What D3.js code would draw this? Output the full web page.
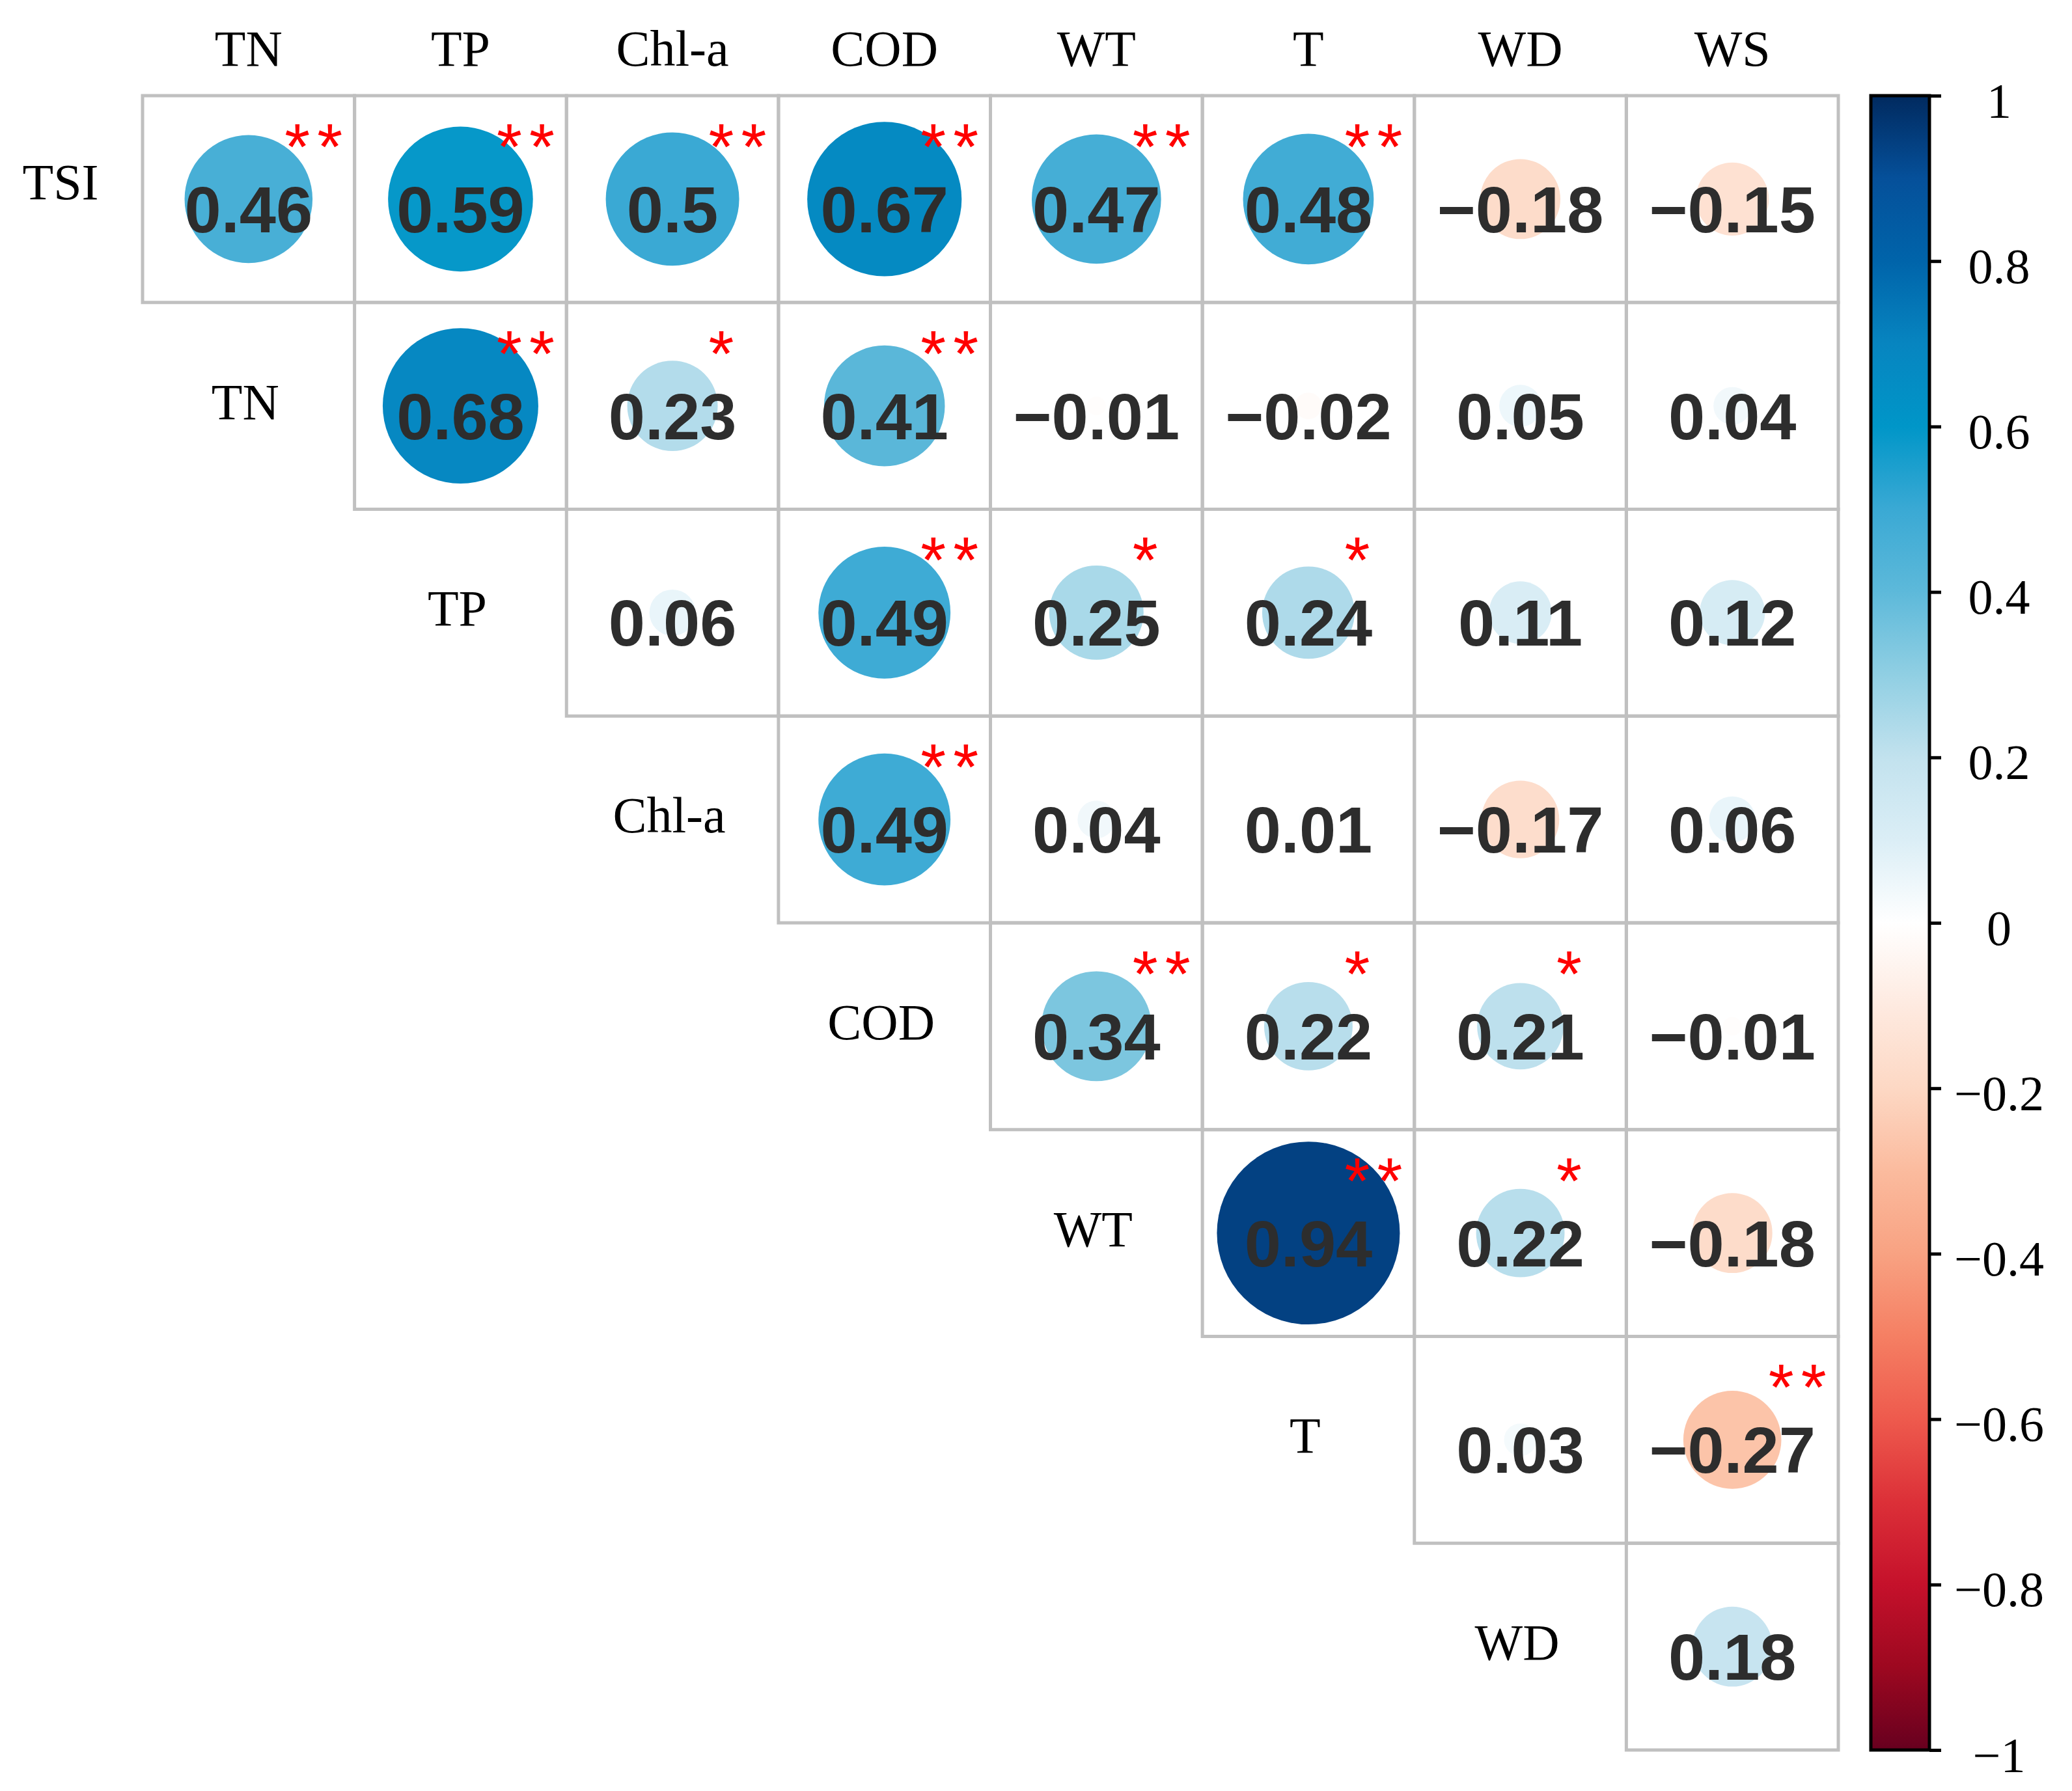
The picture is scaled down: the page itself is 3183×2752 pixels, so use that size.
<!DOCTYPE html>
<html>
<meta charset="utf-8">
<head>
    <script src="https://d3js.org/d3.v7.min.js"></script>
</head>

<style>
  body { margin: 0; background: #fff; }
  svg .cell { fill: none; stroke: #c0c0c0; stroke-width: 5; }
  svg .val { font-family: "Liberation Sans", Arial, sans-serif; font-weight: bold; font-size: 101px; fill: #2d2d2d; text-anchor: middle; }
  svg .star { font-family: "Liberation Sans", Arial, sans-serif; font-size: 100px; fill: #ff0000; text-anchor: middle; }
  svg .lab { font-family: "Liberation Serif", "Times New Roman", serif; font-size: 78px; fill: #000; text-anchor: middle; }
  svg .tick text { font-family: "Liberation Serif", "Times New Roman", serif; font-size: 76px; fill: #000; text-anchor: middle; }
</style>

<body>
<script>

// rows / columns of the upper triangle
var rows = ["TSI", "TN", "TP", "Chl-a", "COD", "WT", "T", "WD"];
var cols = ["TN", "TP", "Chl-a", "COD", "WT", "T", "WD", "WS"];

// correlation of each row with cols[i], cols[i+1], ...
var rTSI  = [0.46, 0.59, 0.5, 0.67, 0.47, 0.48, -0.18, -0.15];
var rTN   = [0.68, 0.23, 0.41, -0.01, -0.02, 0.05, 0.04];
var rTP   = [0.06, 0.49, 0.25, 0.24, 0.11, 0.12];
var rChla = [0.49, 0.04, 0.01, -0.17, 0.06];
var rCOD  = [0.34, 0.22, 0.21, -0.01];
var rWT   = [0.94, 0.22, -0.18];
var rT    = [0.03, -0.27];
var rWD   = [0.18];

// number of stars (significance)
var sTSI  = [2, 2, 2, 2, 2, 2, 0, 0];
var sTN   = [2, 1, 2, 0, 0, 0, 0];
var sTP   = [0, 2, 1, 1, 0, 0];
var sChla = [2, 0, 0, 0, 0];
var sCOD  = [2, 1, 1, 0];
var sWT   = [2, 1, 0];
var sT    = [0, 2];
var sWD   = [0];

var legendTicks = [1, 0.8, 0.6, 0.4, 0.2, 0, -0.2, -0.4, -0.6, -0.8, -1];

var colorStops = [-1, -0.9, -0.8, -0.7, -0.6, -0.5, -0.4, -0.3, -0.2, -0.1, 0,
                  0.1, 0.2, 0.3, 0.4, 0.5, 0.6, 0.7, 0.8, 0.9, 1];
var colorVals = ["#67001f", "#9d0820", "#c5112b", "#dc3038", "#ee5a4d", "#f57f63", "#f8a282", "#fbbb9e", "#fdd8c4", "#feeae0", "#ffffff",
                 "#dbeef6", "#c2e2ee", "#90cfe3", "#5db9da", "#3aa9d4", "#0096c8", "#0785c0", "#0064aa", "#05509a", "#012a5f"];

var rVals = [rTSI, rTN, rTP, rChla, rCOD, rWT, rT, rWD];
var sVals = [sTSI, sTN, sTP, sChla, sCOD, sWT, sT, sWD];

var data = [];
rows.forEach(function(r, i) {
    rVals[i].forEach(function(v, k) {
        data.push({row: r, col: cols[i + k], v: v, s: sVals[i][k]});
    });
});

var width = 3183, height = 2752;

var svg = d3.select("body").append("svg")
    .attr("width", width)
    .attr("height", height);

svg.append("rect").attr("width", width).attr("height", height).attr("fill", "#fff");

var x = d3.scaleBand().domain(cols).range([219, 2824]);
var y = d3.scaleBand().domain(rows).range([147, 2689]);
var bw = x.bandwidth(), bh = y.bandwidth();

var color = d3.scaleLinear().domain(colorStops).range(colorVals);
var rad = function(v) { return 0.445 * bw * Math.sqrt(Math.abs(v)); };
var fmt = function(v) { return String(v).replace("-", "\u2212"); };

var cells = svg.append("g").selectAll("g")
    .data(data)
    .enter().append("g")
    .attr("transform", function(d) { return "translate(" + (x(d.col) + bw / 2) + "," + (y(d.row) + bh / 2) + ")"; });

cells.append("rect")
    .attr("class", "cell")
    .attr("x", -bw / 2).attr("y", -bh / 2)
    .attr("width", bw).attr("height", bh);

cells.append("circle")
    .attr("r", function(d) { return rad(d.v); })
    .attr("fill", function(d) { return color(d.v); });

cells.append("text")
    .attr("class", "val")
    .attr("y", 51)
    .text(function(d) { return fmt(d.v); });

cells.each(function(d) {
    for (var k = 0; k < d.s; k++) {
        d3.select(this).append("text")
            .attr("class", "star")
            .attr("x", 75 + k * 50)
            .attr("y", -46)
            .text("*");
    }
});

// column labels
svg.append("g").selectAll("text")
    .data(cols)
    .enter().append("text")
    .attr("class", "lab")
    .attr("x", function(d) { return x(d) + bw / 2; })
    .attr("y", 101)
    .text(function(d) { return d; });

// row labels: first one outside, others on the diagonal
svg.append("g").selectAll("text")
    .data(rows)
    .enter().append("text")
    .attr("class", "lab")
    .attr("x", function(d, i) { return i == 0 ? 93 : x(cols[i - 1]) + bw / 2 - 5; })
    .attr("y", function(d, i) { return y(d) + bh / 2 + (i == 0 ? 0 : 20); })
    .text(function(d) { return d; });

// colour bar
var barX = 2874, barW = 90;
var ly = d3.scaleLinear().domain([1, -1]).range([147, 2689]);

var grad = svg.append("defs").append("linearGradient")
    .attr("id", "bar")
    .attr("x1", 0).attr("y1", 0).attr("x2", 0).attr("y2", 1);
colorStops.slice().reverse().forEach(function(v) {
    grad.append("stop")
        .attr("offset", (1 - v) / 2)
        .attr("stop-color", color(v));
});

svg.append("rect")
    .attr("x", barX).attr("y", ly(1))
    .attr("width", barW).attr("height", ly(-1) - ly(1))
    .attr("fill", "url(#bar)")
    .attr("stroke", "#000")
    .attr("stroke-width", 5);

var axis = svg.append("g")
    .attr("transform", "translate(" + (barX + barW) + ",0)")
    .call(d3.axisRight(ly).tickValues(legendTicks).tickSize(18).tickFormat(fmt));
axis.select(".domain").remove();
axis.selectAll(".tick line").attr("stroke", "#000").attr("stroke-width", 5);
axis.selectAll(".tick text")
    .attr("x", 3071 - barX - barW)
    .attr("dy", null)
    .attr("y", 33)
    .attr("fill", "#000");

</script>
</body>
</html>
